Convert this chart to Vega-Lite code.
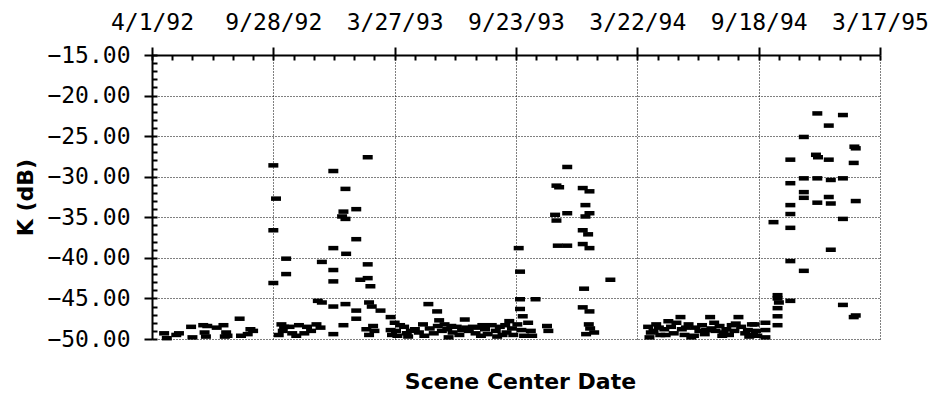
{
  "$schema": "https://vega.github.io/schema/vega-lite/v6.json",
  "width": 728,
  "height": 284,
  "autosize": {"type": "none"},
  "padding": {"left": 152, "top": 55, "right": 54, "bottom": 58},
  "background": "white",
  "view": {"stroke": null},
  "config": {
    "axis": {
      "domainColor": "black", "domainWidth": 2,
      "tickColor": "black", "tickWidth": 2,
      "labelColor": "black", "titleColor": "black",
      "gridColor": "black", "gridOpacity": 1, "gridDash": [1, 2], "gridWidth": 1,
      "labelFont": "DejaVu Sans Mono", "labelFontSize": 23,
      "titleFont": "DejaVu Sans", "titleFontWeight": "bold", "titleFontSize": 22
    }
  },
  "data": {
    "format": {"parse": {"date": "utc:'%Y-%m-%d'"}},
    "values": [
      {"date": "1992-04-19", "K": -49.3}, {"date": "1992-04-23", "K": -49.9}, {"date": "1992-05-07", "K": -49.5},
      {"date": "1992-05-11", "K": -49.3}, {"date": "1992-05-29", "K": -48.5}, {"date": "1992-05-31", "K": -49.8},
      {"date": "1992-06-16", "K": -48.3}, {"date": "1992-06-18", "K": -49.2}, {"date": "1992-06-20", "K": -49.7},
      {"date": "1992-06-22", "K": -48.4}, {"date": "1992-07-18", "K": -49.7},
      {"date": "1992-07-06", "K": -48.6}, {"date": "1992-07-16", "K": -48.3}, {"date": "1992-07-20", "K": -49.2},
      {"date": "1992-07-22", "K": -49.6}, {"date": "1992-08-09", "K": -47.5}, {"date": "1992-08-11", "K": -49.6},
      {"date": "1992-08-21", "K": -49.4}, {"date": "1992-08-25", "K": -48.8}, {"date": "1992-08-29", "K": -49.0},

      {"date": "1992-09-28", "K": -28.6}, {"date": "1992-10-02", "K": -32.7}, {"date": "1992-09-28", "K": -36.6},
      {"date": "1992-09-28", "K": -43.1}, {"date": "1992-10-17", "K": -40.1}, {"date": "1992-10-17", "K": -42.0},
      {"date": "1992-10-10", "K": -48.2}, {"date": "1992-10-12", "K": -49.0}, {"date": "1992-10-22", "K": -48.5},
      {"date": "1992-10-06", "K": -49.5}, {"date": "1992-10-14", "K": -48.5}, {"date": "1992-11-05", "K": -48.3},
      {"date": "1992-11-13", "K": -49.3},
      {"date": "1992-10-26", "K": -49.3}, {"date": "1992-11-01", "K": -49.6}, {"date": "1992-11-17", "K": -48.5},
      {"date": "1992-11-23", "K": -49.0}, {"date": "1992-12-01", "K": -48.2}, {"date": "1992-12-07", "K": -48.6},
      {"date": "1992-12-03", "K": -45.3}, {"date": "1992-12-09", "K": -45.5}, {"date": "1992-12-09", "K": -40.5},
      {"date": "1992-12-26", "K": -29.3}, {"date": "1992-12-26", "K": -38.8}, {"date": "1992-12-26", "K": -41.5},
      {"date": "1992-12-26", "K": -42.9}, {"date": "1992-12-26", "K": -46.0}, {"date": "1992-12-26", "K": -49.4},
      {"date": "1993-01-10", "K": -48.3}, {"date": "1993-01-13", "K": -31.5}, {"date": "1993-01-10", "K": -34.3},
      {"date": "1993-01-13", "K": -35.2}, {"date": "1993-01-08", "K": -34.9}, {"date": "1993-01-14", "K": -39.5},
      {"date": "1993-01-13", "K": -45.7}, {"date": "1993-01-29", "K": -34.0}, {"date": "1993-01-29", "K": -37.7},
      {"date": "1993-01-29", "K": -46.5}, {"date": "1993-01-29", "K": -47.5}, {"date": "1993-02-15", "K": -27.6},
      {"date": "1993-02-15", "K": -40.8}, {"date": "1993-02-04", "K": -42.7}, {"date": "1993-02-15", "K": -42.5},
      {"date": "1993-02-19", "K": -43.5}, {"date": "1993-02-17", "K": -45.5}, {"date": "1993-02-21", "K": -46.0},
      {"date": "1993-02-13", "K": -48.8}, {"date": "1993-02-17", "K": -49.5}, {"date": "1993-02-23", "K": -48.4},
      {"date": "1993-02-25", "K": -49.0}, {"date": "1993-03-06", "K": -46.5}, {"date": "1993-03-21", "K": -47.3},
      {"date": "1993-03-21", "K": -48.9}, {"date": "1993-03-23", "K": -49.5},

      {"date": "1993-03-27", "K": -48.0}, {"date": "1993-03-29", "K": -49.0}, {"date": "1993-03-31", "K": -49.6},
      {"date": "1993-04-10", "K": -48.5}, {"date": "1993-04-14", "K": -49.3}, {"date": "1993-04-16", "K": -49.7},
      {"date": "1993-04-26", "K": -48.8}, {"date": "1993-05-02", "K": -49.2}, {"date": "1993-05-16", "K": -45.7},
      {"date": "1993-05-29", "K": -46.6}, {"date": "1993-06-01", "K": -47.7}, {"date": "1993-05-18", "K": -48.7},
      {"date": "1993-05-24", "K": -49.3}, {"date": "1993-05-30", "K": -48.4}, {"date": "1993-06-05", "K": -49.0},
      {"date": "1993-06-13", "K": -48.8}, {"date": "1993-06-15", "K": -49.8}, {"date": "1993-06-21", "K": -49.2},
      {"date": "1993-06-27", "K": -48.5}, {"date": "1993-07-01", "K": -49.5}, {"date": "1993-07-09", "K": -47.6},
      {"date": "1993-07-11", "K": -48.6}, {"date": "1993-07-15", "K": -49.0}, {"date": "1993-07-21", "K": -48.5},
      {"date": "1993-07-25", "K": -49.3}, {"date": "1993-08-04", "K": -48.3}, {"date": "1993-08-08", "K": -48.8},
      {"date": "1993-08-12", "K": -49.4}, {"date": "1993-08-18", "K": -48.3}, {"date": "1993-08-24", "K": -49.0},
      {"date": "1993-08-30", "K": -48.5}, {"date": "1993-09-03", "K": -49.5}, {"date": "1993-09-13", "K": -47.8},
      {"date": "1993-09-17", "K": -48.7}, {"date": "1993-09-19", "K": -49.5},
      {"date": "1993-04-04", "K": -48.3}, {"date": "1993-04-20", "K": -49.0}, {"date": "1993-05-08", "K": -48.2},
      {"date": "1993-05-10", "K": -49.6}, {"date": "1993-06-09", "K": -48.2}, {"date": "1993-06-19", "K": -48.4},
      {"date": "1993-07-05", "K": -48.9}, {"date": "1993-07-29", "K": -48.6}, {"date": "1993-08-02", "K": -49.6},
      {"date": "1993-08-26", "K": -49.7}, {"date": "1993-09-07", "K": -48.3}, {"date": "1993-09-09", "K": -49.2},

      {"date": "1993-09-27", "K": -38.8}, {"date": "1993-09-29", "K": -41.7}, {"date": "1993-09-29", "K": -45.1},
      {"date": "1993-10-22", "K": -45.1}, {"date": "1993-09-29", "K": -46.3}, {"date": "1993-10-03", "K": -47.2},
      {"date": "1993-09-25", "K": -48.2}, {"date": "1993-10-01", "K": -48.9}, {"date": "1993-10-05", "K": -49.6},
      {"date": "1993-10-11", "K": -48.0}, {"date": "1993-10-15", "K": -49.0}, {"date": "1993-10-17", "K": -49.6},
      {"date": "1993-11-08", "K": -48.4}, {"date": "1993-11-10", "K": -49.0}, {"date": "1993-11-22", "K": -31.1},
      {"date": "1993-11-26", "K": -31.3}, {"date": "1993-12-08", "K": -28.8}, {"date": "1993-11-20", "K": -34.7},
      {"date": "1993-11-22", "K": -35.4}, {"date": "1993-12-08", "K": -34.5}, {"date": "1993-11-24", "K": -38.5},
      {"date": "1993-12-08", "K": -38.5}, {"date": "1993-12-31", "K": -31.4}, {"date": "1994-01-10", "K": -31.8},
      {"date": "1994-01-04", "K": -33.5}, {"date": "1994-01-10", "K": -34.5}, {"date": "1994-01-04", "K": -34.9},
      {"date": "1993-12-31", "K": -36.6}, {"date": "1994-01-08", "K": -37.1}, {"date": "1993-12-31", "K": -38.3},
      {"date": "1994-01-10", "K": -38.8}, {"date": "1994-01-02", "K": -43.8}, {"date": "1994-02-10", "K": -42.7},
      {"date": "1993-12-31", "K": -46.1}, {"date": "1994-01-10", "K": -46.6}, {"date": "1994-01-09", "K": -48.2},
      {"date": "1994-01-11", "K": -48.7}, {"date": "1994-01-17", "K": -49.2}, {"date": "1994-01-05", "K": -49.4},

      {"date": "1994-04-07", "K": -48.5}, {"date": "1994-04-11", "K": -49.2}, {"date": "1994-04-15", "K": -49.0},
      {"date": "1994-04-19", "K": -48.2}, {"date": "1994-04-25", "K": -49.5}, {"date": "1994-05-01", "K": -48.8},
      {"date": "1994-05-07", "K": -47.8}, {"date": "1994-05-11", "K": -48.5}, {"date": "1994-05-15", "K": -49.3},
      {"date": "1994-05-19", "K": -48.0}, {"date": "1994-05-25", "K": -47.3}, {"date": "1994-05-27", "K": -48.8},
      {"date": "1994-05-31", "K": -49.5}, {"date": "1994-06-06", "K": -48.2}, {"date": "1994-06-10", "K": -49.8},
      {"date": "1994-06-16", "K": -48.6}, {"date": "1994-06-22", "K": -49.0}, {"date": "1994-06-26", "K": -48.3},
      {"date": "1994-06-30", "K": -49.4}, {"date": "1994-07-08", "K": -47.3}, {"date": "1994-07-10", "K": -48.7},
      {"date": "1994-07-16", "K": -49.0}, {"date": "1994-07-22", "K": -48.4}, {"date": "1994-07-28", "K": -49.2},
      {"date": "1994-08-01", "K": -48.8}, {"date": "1994-08-09", "K": -48.3}, {"date": "1994-08-13", "K": -49.0},
      {"date": "1994-08-19", "K": -47.3}, {"date": "1994-08-23", "K": -48.5}, {"date": "1994-08-29", "K": -49.3},
      {"date": "1994-09-02", "K": -48.9}, {"date": "1994-09-08", "K": -48.2}, {"date": "1994-09-10", "K": -49.5},
      {"date": "1994-04-09", "K": -49.8}, {"date": "1994-04-23", "K": -48.6}, {"date": "1994-05-03", "K": -49.5},
      {"date": "1994-06-02", "K": -48.6}, {"date": "1994-06-14", "K": -49.6}, {"date": "1994-07-02", "K": -48.9},
      {"date": "1994-07-14", "K": -48.0}, {"date": "1994-07-26", "K": -49.6}, {"date": "1994-08-05", "K": -49.5},
      {"date": "1994-08-15", "K": -48.1}, {"date": "1994-09-04", "K": -49.7},

      {"date": "1994-09-12", "K": -48.2}, {"date": "1994-09-14", "K": -49.0}, {"date": "1994-09-16", "K": -49.6},
      {"date": "1994-09-28", "K": -48.0}, {"date": "1994-09-28", "K": -48.9}, {"date": "1994-09-28", "K": -49.8},
      {"date": "1994-10-16", "K": -44.6}, {"date": "1994-10-16", "K": -45.0}, {"date": "1994-10-18", "K": -45.5},
      {"date": "1994-10-16", "K": -46.2}, {"date": "1994-10-16", "K": -47.2}, {"date": "1994-10-16", "K": -48.3},
      {"date": "1994-10-10", "K": -35.6},
      {"date": "1994-11-04", "K": -27.9}, {"date": "1994-11-04", "K": -30.8}, {"date": "1994-11-04", "K": -33.5},
      {"date": "1994-11-04", "K": -34.6}, {"date": "1994-11-04", "K": -36.3}, {"date": "1994-11-04", "K": -40.4},
      {"date": "1994-11-04", "K": -45.3},
      {"date": "1994-11-24", "K": -25.1}, {"date": "1994-11-24", "K": -30.2}, {"date": "1994-11-24", "K": -31.9},
      {"date": "1994-11-24", "K": -32.6}, {"date": "1994-11-24", "K": -41.6},
      {"date": "1994-12-14", "K": -22.2}, {"date": "1994-12-12", "K": -27.3}, {"date": "1994-12-15", "K": -27.6},
      {"date": "1994-12-14", "K": -30.2}, {"date": "1994-12-14", "K": -33.2},
      {"date": "1994-12-31", "K": -23.7}, {"date": "1994-12-31", "K": -27.9}, {"date": "1995-01-03", "K": -30.4},
      {"date": "1994-12-31", "K": -32.5}, {"date": "1995-01-03", "K": -33.3}, {"date": "1995-01-03", "K": -39.0},
      {"date": "1995-01-21", "K": -22.4}, {"date": "1995-01-21", "K": -30.2}, {"date": "1995-01-21", "K": -35.2},
      {"date": "1995-01-21", "K": -45.8},
      {"date": "1995-02-07", "K": -26.3}, {"date": "1995-02-09", "K": -26.5}, {"date": "1995-02-06", "K": -28.3},
      {"date": "1995-02-09", "K": -33.0}, {"date": "1995-02-06", "K": -47.3}, {"date": "1995-02-09", "K": -47.1}
    ]
  },
  "layer": [
    {
      "mark": {"type": "tick", "orient": "horizontal", "size": 10, "thickness": 4.5, "color": "black", "opacity": 1},
      "encoding": {
        "x": {
          "field": "date", "type": "temporal",
          "scale": {"type": "utc", "domain": [{"year": 1992, "month": 4, "date": 1, "utc": true}, {"year": 1995, "month": 3, "date": 17, "utc": true}]},
          "axis": {
            "orient": "top", "title": null,
            "labelExpr": "utcFormat(datum.value, '%-m/%-d/%y')",
            "values": [
              {"year": 1992, "month": 4, "date": 1, "utc": true},
              {"year": 1992, "month": 9, "date": 28, "utc": true},
              {"year": 1993, "month": 3, "date": 27, "utc": true},
              {"year": 1993, "month": 9, "date": 23, "utc": true},
              {"year": 1994, "month": 3, "date": 22, "utc": true},
              {"year": 1994, "month": 9, "date": 18, "utc": true},
              {"year": 1995, "month": 3, "date": 17, "utc": true}
            ],
            "tickSize": 8, "labelPadding": 18, "labelBaseline": "alphabetic", "labelAlign": "center",
            "labelFlush": false, "labelOverlap": false, "grid": true
          }
        },
        "y": {
          "field": "K", "type": "quantitative",
          "scale": {"domain": [-50, -15], "nice": false, "zero": false},
          "axis": {
            "orient": "left", "title": "K (dB)", "format": ".2f",
            "values": [-50, -45, -40, -35, -30, -25, -20, -15],
            "tickSize": 8, "labelPadding": 14, "grid": true, "labelOverlap": false,
            "titleX": -120, "titleY": 142, "titleBaseline": "alphabetic", "titleAngle": -90
          }
        }
      }
    },
    {
      "mark": {"type": "point", "opacity": 0},
      "encoding": {
        "x": {
          "field": "date", "type": "temporal",
          "scale": {"type": "utc", "domain": [{"year": 1992, "month": 4, "date": 1, "utc": true}, {"year": 1995, "month": 3, "date": 17, "utc": true}]},
          "axis": {
            "orient": "top", "title": null, "labels": false, "domain": false, "grid": false, "tickSize": -5,
            "values": [
              {"year": 1992, "month": 4, "date": 1, "utc": true}, {"year": 1992, "month": 5, "date": 1, "utc": true},
              {"year": 1992, "month": 5, "date": 31, "utc": true}, {"year": 1992, "month": 6, "date": 30, "utc": true},
              {"year": 1992, "month": 7, "date": 30, "utc": true}, {"year": 1992, "month": 8, "date": 29, "utc": true},
              {"year": 1992, "month": 9, "date": 28, "utc": true}, {"year": 1992, "month": 10, "date": 28, "utc": true},
              {"year": 1992, "month": 11, "date": 27, "utc": true}, {"year": 1992, "month": 12, "date": 27, "utc": true},
              {"year": 1993, "month": 1, "date": 26, "utc": true}, {"year": 1993, "month": 2, "date": 25, "utc": true},
              {"year": 1993, "month": 3, "date": 27, "utc": true}, {"year": 1993, "month": 4, "date": 26, "utc": true},
              {"year": 1993, "month": 5, "date": 26, "utc": true}, {"year": 1993, "month": 6, "date": 25, "utc": true},
              {"year": 1993, "month": 7, "date": 25, "utc": true}, {"year": 1993, "month": 8, "date": 24, "utc": true},
              {"year": 1993, "month": 9, "date": 23, "utc": true}, {"year": 1993, "month": 10, "date": 23, "utc": true},
              {"year": 1993, "month": 11, "date": 22, "utc": true}, {"year": 1993, "month": 12, "date": 22, "utc": true},
              {"year": 1994, "month": 1, "date": 21, "utc": true}, {"year": 1994, "month": 2, "date": 20, "utc": true},
              {"year": 1994, "month": 3, "date": 22, "utc": true}, {"year": 1994, "month": 4, "date": 21, "utc": true},
              {"year": 1994, "month": 5, "date": 21, "utc": true}, {"year": 1994, "month": 6, "date": 20, "utc": true},
              {"year": 1994, "month": 7, "date": 20, "utc": true}, {"year": 1994, "month": 8, "date": 19, "utc": true},
              {"year": 1994, "month": 9, "date": 18, "utc": true}, {"year": 1994, "month": 10, "date": 18, "utc": true},
              {"year": 1994, "month": 11, "date": 17, "utc": true}, {"year": 1994, "month": 12, "date": 17, "utc": true},
              {"year": 1995, "month": 1, "date": 16, "utc": true}, {"year": 1995, "month": 2, "date": 15, "utc": true},
              {"year": 1995, "month": 3, "date": 17, "utc": true}
            ]
          }
        },
        "y": {
          "field": "K", "type": "quantitative",
          "scale": {"domain": [-50, -15], "nice": false, "zero": false},
          "axis": {
            "orient": "left", "title": null, "labels": false, "domain": false, "grid": false, "tickSize": -5,
            "values": [-50, -49, -48, -47, -46, -45, -44, -43, -42, -41, -40, -39, -38, -37, -36, -35, -34, -33, -32, -31, -30, -29, -28, -27, -26, -25, -24, -23, -22, -21, -20, -19, -18, -17, -16, -15]
          }
        }
      }
    },
    {
      "mark": {"type": "point", "opacity": 0},
      "encoding": {
        "x": {
          "field": "date", "type": "temporal",
          "scale": {"type": "utc", "domain": [{"year": 1992, "month": 4, "date": 1, "utc": true}, {"year": 1995, "month": 3, "date": 17, "utc": true}]},
          "axis": {
            "orient": "bottom", "title": "Scene Center Date", "labels": false, "domain": false, "ticks": false, "grid": false,
            "titleY": 49, "titleX": 368, "titleBaseline": "alphabetic", "titleAlign": "center"
          }
        },
        "y": {
          "field": "K", "type": "quantitative",
          "scale": {"domain": [-50, -15], "nice": false, "zero": false},
          "axis": null
        }
      }
    }
  ],
  "resolve": {"axis": {"x": "independent", "y": "independent"}}
}
